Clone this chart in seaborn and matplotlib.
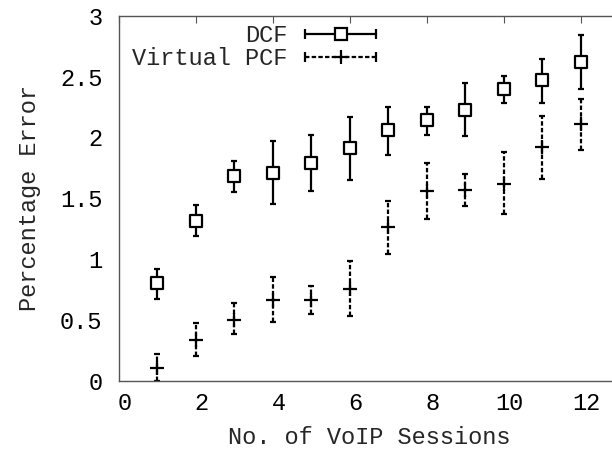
import numpy as np
import pandas as pd
import matplotlib
matplotlib.use("Agg")
import matplotlib.pyplot as plt
import matplotlib.transforms as mtransforms
from matplotlib.lines import Line2D
from matplotlib.legend_handler import HandlerLine2D, HandlerTuple
import seaborn as sns

sessions = [1, 2, 3, 4, 5, 6, 7, 8, 9, 10, 11, 12]
dcf_mean = [0.80, 1.31, 1.68, 1.71, 1.79, 1.91, 2.06, 2.14, 2.23, 2.40, 2.47, 2.62]
dcf_low = [0.67, 1.19, 1.55, 1.45, 1.56, 1.65, 1.86, 2.02, 2.01, 2.28, 2.28, 2.40]
dcf_high = [0.92, 1.445, 1.81, 1.97, 2.02, 2.17, 2.255, 2.255, 2.45, 2.51, 2.65, 2.84]
pcf_mean = [0.10, 0.33, 0.50, 0.66, 0.66, 0.75, 1.26, 1.56, 1.57, 1.62, 1.92, 2.11]
pcf_low = [0.00, 0.20, 0.38, 0.48, 0.55, 0.53, 1.04, 1.33, 1.44, 1.37, 1.66, 1.90]
pcf_high = [0.22, 0.47, 0.64, 0.85, 0.78, 0.98, 1.48, 1.79, 1.70, 1.88, 2.18, 2.32]
x_ticks = [0, 2, 4, 6, 8, 10, 12]
y_ticks = [0, 0.5, 1, 1.5, 2, 2.5, 3]
y_ticklabels = ["0", "0.5", "1", "1.5", "2", "2.5", "3"]

sns.set_theme(style="white")
plt.rcParams["font.family"] = ["Liberation Mono", "DejaVu Sans Mono"]
FS = 17

fig = plt.figure(figsize=(6.12, 4.54), dpi=100)
ax = fig.add_axes([119 / 612, 1 - 380.5 / 454, 500 / 612, 364.5 / 454])

df_dcf = pd.DataFrame({"x": sessions, "y": dcf_mean})
df_pcf = pd.DataFrame({"x": sessions, "y": pcf_mean})

dcf_err = [np.array(dcf_mean) - np.array(dcf_low), np.array(dcf_high) - np.array(dcf_mean)]
pcf_err = [np.array(pcf_mean) - np.array(pcf_low), np.array(pcf_high) - np.array(pcf_mean)]

e1 = ax.errorbar(sessions, dcf_mean, yerr=dcf_err, fmt="none", ecolor="black",
                 elinewidth=1.6, capsize=2.3, capthick=1.6, zorder=2)
e2 = ax.errorbar(sessions, pcf_mean, yerr=pcf_err, fmt="none", ecolor="black",
                 elinewidth=1.6, capsize=2.3, capthick=1.6, zorder=2)
for lc in e2[2]:
    lc.set_linestyle((0, (2.0, 1.0)))

sns.scatterplot(data=df_dcf, x="x", y="y", marker="s", s=65, facecolor="white",
                edgecolor="black", linewidth=1.6, ax=ax, zorder=3, legend=False)
sns.scatterplot(data=df_pcf, x="x", y="y", marker="+", s=100, color="black",
                linewidth=1.6, ax=ax, zorder=3, legend=False)

ax.set_xlim(0, 13)
ax.set_ylim(0, 3)
ax.set_xticks(x_ticks)
ax.set_xticklabels([str(t) for t in x_ticks], fontsize=FS)
ax.set_yticks(y_ticks)
ax.set_yticklabels(y_ticklabels, fontsize=FS)
ax.tick_params(axis="both", direction="in", length=5, width=0.8, color="#555555",
               top=True, right=True, labelcolor="black")
ax.tick_params(axis="x", pad=8)
ax.tick_params(axis="y", pad=12)
for lbl in ax.get_xticklabels():
    lbl.set_transform(lbl.get_transform() + mtransforms.ScaledTranslation(6 / 100, 0, fig.dpi_scale_trans))

for sp in ax.spines.values():
    sp.set_color("#555555")
    sp.set_linewidth(1.0)

ax.set_xlabel("No. of VoIP Sessions", fontsize=FS, labelpad=8)
ax.set_ylabel("Percentage Error", fontsize=FS, labelpad=14)

# legend handles (gnuplot style: horizontal errorbar sample)
dcf_line = Line2D([], [], color="black", lw=1.6, marker="|", ms=7, mew=1.6)
dcf_mark = Line2D([], [], ls="none", marker="s", ms=8, mfc="white", mec="black", mew=1.6)
pcf_line = Line2D([], [], color="black", lw=1.6, ls=(0, (2.0, 1.0)), marker="|", ms=7, mew=1.6)
pcf_mark = Line2D([], [], ls="none", marker="+", ms=10, color="black", mew=1.6)
hmap = {dcf_line: HandlerLine2D(numpoints=2, marker_pad=0.0),
        pcf_line: HandlerLine2D(numpoints=2, marker_pad=0.0),
        dcf_mark: HandlerLine2D(numpoints=1), pcf_mark: HandlerLine2D(numpoints=1),
        tuple: HandlerTuple(ndivide=1, pad=0)}
leg = ax.legend([(dcf_line, dcf_mark), (pcf_line, pcf_mark)], ["DCF", "Virtual PCF"],
                handler_map=hmap, loc="upper right",
                bbox_to_anchor=(376 / 612, 1 - 24 / 454), bbox_transform=fig.transFigure,
                frameon=False, markerfirst=False, fontsize=FS, borderpad=0, borderaxespad=0,
                handlelength=3.0, handletextpad=0.75, labelspacing=0.0)

fig.savefig("out.png", dpi=100)
